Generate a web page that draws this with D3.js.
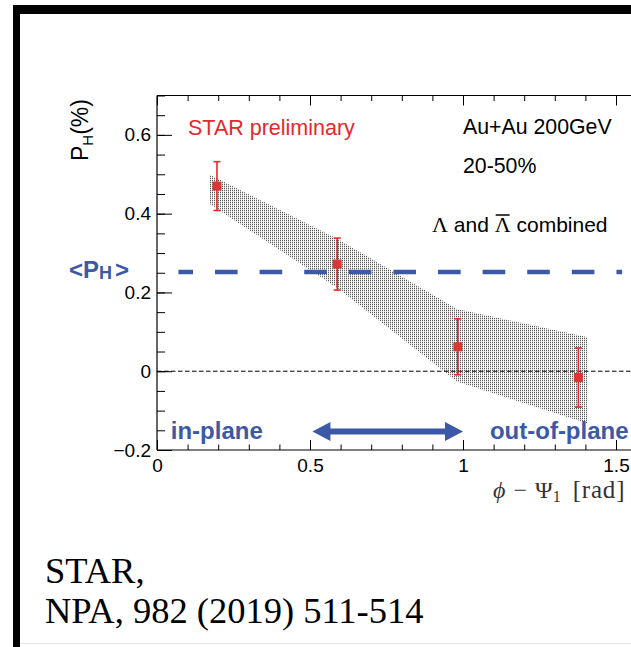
<!DOCTYPE html>
<html>
<head>
<meta charset="utf-8">
<script src="https://cdn.jsdelivr.net/npm/d3@7"></script>
<style>
  html, body { margin: 0; padding: 0; background: #fff; }
  svg { display: block; }
</style>
</head>
<body>
<svg id="chart" width="631" height="647"></svg>
<script>
// Global hyperon polarization vs. azimuthal angle relative to the first-order event plane
const phi = [0.196, 0.589, 0.983, 1.377];
const polarization = [0.470, 0.272, 0.062, -0.016];
const statErr = [0.062, 0.066, 0.071, 0.075];

// systematic uncertainty band (outline vertices)
const sysPhi = [0.170, 0.590, 0.980, 1.405];
const sysLow = [0.426, 0.211, -0.026, -0.132];
const sysHigh = [0.500, 0.336, 0.158, 0.087];

// average polarization
const meanPol = 0.252;
const meanRange = [0.07, 1.52];

// tick labels
const xTickValues = [0, 0.5, 1, 1.5];
const xTickLabels = ["0", "0.5", "1", "1.5"];
const yTickValues = [-0.2, 0, 0.2, 0.4, 0.6];
const yTickLabels = ["\u22120.2", "0", "0.2", "0.4", "0.6"];
const xMinorTicks = d3.range(0, 1.56, 0.1).map(v => +v.toFixed(2));
const yMinorTicks = d3.range(-0.2, 0.701, 0.05).map(v => +v.toFixed(2));

const sans = "'Liberation Sans', Arial, Helvetica, sans-serif";
const serif = "'Liberation Serif', 'Times New Roman', serif";
const blue = "#3c59a7";
const red = "#e3292b";

const svg = d3.select("#chart");

// page frame
svg.append("rect").attr("x", 13).attr("y", 5).attr("width", 618).attr("height", 9).attr("fill", "#000");
svg.append("rect").attr("x", 13).attr("y", 5).attr("width", 7).attr("height", 642).attr("fill", "#000");
svg.append("line").attr("x1", 20).attr("x2", 631).attr("y1", 643.5).attr("y2", 643.5)
  .attr("stroke", "#e4e4e4").attr("stroke-width", 1);

const x = d3.scaleLinear().domain([0, 1.55]).range([157, 631.3]);
const y = d3.scaleLinear().domain([-0.2, 0.7]).range([450, 95.5]);

// dotted fill for the systematic band
const defs = svg.append("defs");
const pat = defs.append("pattern").attr("id", "sysFill")
  .attr("patternUnits", "userSpaceOnUse").attr("width", 2).attr("height", 2);
pat.append("rect").attr("x", 0).attr("y", 0).attr("width", 1).attr("height", 1).attr("fill", "#5c5c5c");
pat.append("rect").attr("x", 0).attr("y", 1).attr("width", 1).attr("height", 1).attr("fill", "#d0d0d0");

const bandData = sysPhi.map((p, i) => ({ p, lo: sysLow[i], hi: sysHigh[i] }));
const area = d3.area().x(d => x(d.p)).y0(d => y(d.lo)).y1(d => y(d.hi));
svg.append("path").datum(bandData).attr("d", area).attr("fill", "url(#sysFill)");

// zero reference
svg.append("line")
  .attr("x1", x(0)).attr("x2", x(1.55)).attr("y1", y(0)).attr("y2", y(0))
  .attr("stroke", "#000").attr("stroke-width", 1).attr("stroke-dasharray", "4.5,2.5");

// mean polarization line
svg.append("line")
  .attr("x1", x(meanRange[0])).attr("x2", x(meanRange[1])).attr("y1", y(meanPol)).attr("y2", y(meanPol))
  .attr("stroke", blue).attr("stroke-width", 4.5)
  .attr("stroke-dasharray", "22.6,22").attr("stroke-dashoffset", 8);

// axes
function styleAxis(g) {
  g.select(".domain").remove();
  g.selectAll("line").attr("stroke", "#000").attr("stroke-width", 1);
  g.selectAll("text").attr("font-family", sans).attr("font-size", 19).attr("fill", "#000");
}

svg.append("g").attr("transform", `translate(${x(0)},0)`)
  .call(d3.axisLeft(y).tickValues(yMinorTicks).tickSize(-8).tickFormat(""))
  .call(styleAxis);
svg.append("g").attr("transform", `translate(${x(0)},0)`)
  .call(d3.axisLeft(y).tickValues(yTickValues).tickSize(-15).tickPadding(6)
    .tickFormat((d, i) => yTickLabels[yTickValues.indexOf(d)]))
  .call(styleAxis);

svg.append("g").attr("transform", `translate(0,${y(-0.2)})`)
  .call(d3.axisBottom(x).tickValues(xMinorTicks).tickSize(-5.5).tickFormat(""))
  .call(styleAxis);
svg.append("g").attr("transform", `translate(0,${y(-0.2)})`)
  .call(d3.axisBottom(x).tickValues(xTickValues).tickSize(-10).tickPadding(8.5)
    .tickFormat(d => xTickLabels[xTickValues.indexOf(d)]))
  .call(styleAxis);

svg.append("g").attr("transform", `translate(0,${y(0.7)})`)
  .call(d3.axisTop(x).tickValues(xMinorTicks).tickSize(-5.5).tickFormat(""))
  .call(styleAxis);
svg.append("g").attr("transform", `translate(0,${y(0.7)})`)
  .call(d3.axisTop(x).tickValues(xTickValues).tickSize(-10).tickFormat(""))
  .call(styleAxis);

// frame lines
const frame = svg.append("g").attr("stroke", "#000").attr("stroke-width", 1.2);
frame.append("line").attr("x1", x(0)).attr("x2", x(0)).attr("y1", y(0.7)).attr("y2", y(-0.2));
frame.append("line").attr("x1", x(0)).attr("x2", x(1.55)).attr("y1", y(-0.2)).attr("y2", y(-0.2));
frame.append("line").attr("x1", x(0)).attr("x2", x(1.55)).attr("y1", y(0.7)).attr("y2", y(0.7));

// data points with statistical errors
const pts = phi.map((p, i) => ({ p, v: polarization[i], e: statErr[i] }));
const pg = svg.append("g");
pg.selectAll(".err").data(pts).join("line")
  .attr("x1", d => x(d.p)).attr("x2", d => x(d.p))
  .attr("y1", d => y(d.v + d.e)).attr("y2", d => y(d.v - d.e))
  .attr("stroke", red).attr("stroke-width", 1.6);
pg.selectAll(".capHi").data(pts).join("line")
  .attr("x1", d => x(d.p) - 3.5).attr("x2", d => x(d.p) + 3.5)
  .attr("y1", d => y(d.v + d.e)).attr("y2", d => y(d.v + d.e))
  .attr("stroke", red).attr("stroke-width", 1.6);
pg.selectAll(".capLo").data(pts).join("line")
  .attr("x1", d => x(d.p) - 3.5).attr("x2", d => x(d.p) + 3.5)
  .attr("y1", d => y(d.v - d.e)).attr("y2", d => y(d.v - d.e))
  .attr("stroke", red).attr("stroke-width", 1.6);
pg.selectAll(".mk").data(pts).join("rect")
  .attr("x", d => x(d.p) - 4.5).attr("y", d => y(d.v) - 4.5)
  .attr("width", 9).attr("height", 9).attr("fill", "#dc3535");

// double arrow between in-plane and out-of-plane
const arrowY = y(-0.153);
const ax0 = x(0.508), ax1 = x(1.0);
const headL = 18, headH = 9.5;
svg.append("rect").attr("x", ax0 + headL - 1).attr("y", arrowY - 3).attr("width", ax1 - ax0 - 2 * headL + 2)
  .attr("height", 6).attr("fill", blue);
svg.append("path").attr("fill", blue)
  .attr("d", `M${ax0},${arrowY} L${ax0 + headL},${arrowY - headH} L${ax0 + headL},${arrowY + headH} Z`);
svg.append("path").attr("fill", blue)
  .attr("d", `M${ax1},${arrowY} L${ax1 - headL},${arrowY - headH} L${ax1 - headL},${arrowY + headH} Z`);

// annotations
svg.append("text").attr("x", x(0.045)).attr("y", 439).attr("font-family", sans).attr("font-weight", "bold")
  .attr("font-size", 24).attr("fill", blue).text("in-plane");
svg.append("text").attr("x", x(1.088)).attr("y", 439).attr("font-family", sans).attr("font-weight", "bold")
  .attr("font-size", 24).attr("fill", blue).text("out-of-plane");

const meanLbl = svg.append("text").attr("x", 69).attr("y", 278).attr("font-family", sans)
  .attr("font-weight", "bold").attr("font-size", 24).attr("fill", blue);
meanLbl.append("tspan").text("<P");
meanLbl.append("tspan").attr("font-size", 18).attr("dy", 1).text("H");
meanLbl.append("tspan").attr("dx", 3).attr("dy", -1).text(">");

svg.append("text").attr("x", 188).attr("y", 135).attr("font-family", sans).attr("font-size", 21.5)
  .attr("fill", red).text("STAR preliminary");
svg.append("text").attr("x", 463).attr("y", 133.5).attr("font-family", sans).attr("font-size", 21.3)
  .attr("fill", "#000").text("Au+Au 200GeV");
svg.append("text").attr("x", 463).attr("y", 173).attr("font-family", sans).attr("font-size", 21.3)
  .attr("fill", "#000").text("20-50%");

const lam = svg.append("text").attr("x", 432).attr("y", 232).attr("font-size", 21).attr("fill", "#000");
lam.append("tspan").attr("font-family", serif).attr("font-size", 22).text("\u039B");
lam.append("tspan").attr("font-family", sans).text(" and ");
lam.append("tspan").attr("font-family", serif).attr("font-size", 22).text("\u039B");
lam.append("tspan").attr("font-family", sans).text(" combined");
// bar over the antiparticle symbol
const barIdx = 1 + " and ".length;
const ext = lam.node().getExtentOfChar(barIdx);
svg.append("line").attr("x1", ext.x + 1).attr("x2", ext.x + ext.width - 1)
  .attr("y1", 215).attr("y2", 215).attr("stroke", "#000").attr("stroke-width", 1.5);

// y-axis title
const yTitle = svg.append("text").attr("transform", "translate(88,161) rotate(-90)")
  .attr("font-family", sans).attr("font-size", 23).attr("fill", "#000");
yTitle.append("tspan").text("P");
yTitle.append("tspan").attr("font-size", 15).attr("dy", 5).text("H");
yTitle.append("tspan").attr("dy", -5).text("(%)");

// x-axis title
const xTitle = svg.append("text").attr("x", 493).attr("y", 498).attr("font-family", serif)
  .attr("font-size", 24).attr("fill", "#333");
xTitle.append("tspan").attr("font-style", "italic").text("\u03D5");
xTitle.append("tspan").attr("dx", 8).text("\u2212");
xTitle.append("tspan").attr("dx", 8).text("\u03A8");
xTitle.append("tspan").attr("font-size", 16).attr("dy", 4).text("1");
xTitle.append("tspan").attr("dx", 12).attr("dy", -4).attr("font-size", 25).attr("letter-spacing", 0.8).text("[rad]");

// reference
svg.append("text").attr("x", 45).attr("y", 583).attr("font-family", serif).attr("font-size", 36.5)
  .attr("fill", "#000").text("STAR,");
svg.append("text").attr("x", 45).attr("y", 623).attr("font-family", serif).attr("font-size", 36.5)
  .attr("fill", "#000").text("NPA, 982 (2019) 511-514");
</script>
</body>
</html>
